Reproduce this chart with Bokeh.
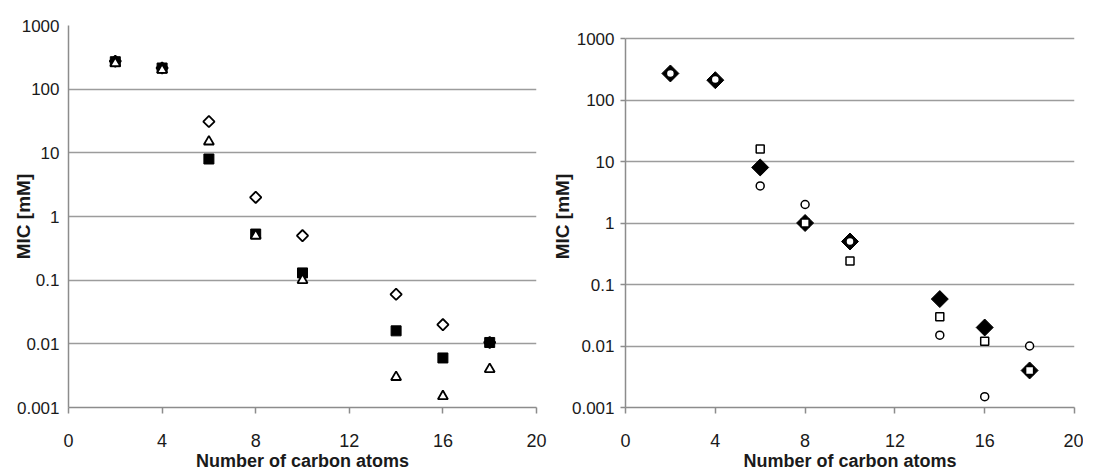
import math
from bokeh.plotting import figure
from bokeh.layouts import row
from bokeh.models import FixedTicker, Range1d
from bokeh.embed import file_html
from bokeh.resources import INLINE

nan = float("nan")

carbons = [2, 4, 6, 8, 10, 14, 16, 18]

# Left panel series
left_diamond = [275, 215, 31, 2.0, 0.5, 0.06, 0.02, 0.0105]
left_triangle = [255, 200, 15, 0.5, 0.1, 0.003, 0.0015, 0.004]
left_square = [270, 215, 8, 0.53, 0.13, 0.016, 0.006, 0.0105]

# Right panel series
right_diamond = [270, 210, 8, 1.0, 0.5, 0.058, 0.02, 0.004]
right_square = [nan, nan, 16, 1.0, 0.24, 0.03, 0.012, 0.004]
right_circle = [270, 215, 4, 2.0, 0.5, 0.015, 0.0015, 0.01]

y_ticks = [0.001, 0.01, 0.1, 1, 10, 100, 1000]
y_tick_labels = ["0.001", "0.01", "0.1", "1", "10", "100", "1000"]
x_ticks = [0, 4, 8, 12, 16, 20]
x_title = "Number of carbon atoms"
y_title = "MIC [mM]"

FONT = "Liberation Sans"
GRID = "#9c9c9c"
AXIS = "#8c8c8c"
TXT = "#1a1a1a"


def make_panel(fw, fh, bl, br, bt, bb, y_end, ytick_out, ystand, ylab_stand):
    p = figure(frame_width=fw, frame_height=fh,
               min_border_left=bl, min_border_right=br,
               min_border_top=bt, min_border_bottom=bb,
               y_axis_type="log",
               x_range=Range1d(0, 20), y_range=Range1d(0.001, y_end),
               output_backend="svg", toolbar_location=None)
    p.outline_line_color = None
    p.background_fill_color = "white"
    p.xgrid.grid_line_color = None
    p.ygrid.grid_line_color = GRID
    p.ygrid.grid_line_width = 1.5
    p.ygrid.ticker = FixedTicker(ticks=y_ticks)

    p.yaxis.ticker = FixedTicker(ticks=y_ticks)
    p.yaxis.bounds = (0.001, 1000)
    p.yaxis.major_label_overrides = {t: l for t, l in zip(y_ticks, y_tick_labels)}
    p.yaxis.minor_tick_line_color = None
    p.yaxis.major_tick_in = 0
    p.yaxis.major_tick_out = ytick_out
    p.yaxis.major_tick_line_color = AXIS if ytick_out else None
    p.yaxis.major_tick_line_width = 1.5
    p.yaxis.axis_line_color = AXIS
    p.yaxis.axis_line_width = 1.5
    p.yaxis.major_label_standoff = ystand
    p.yaxis.axis_label = y_title
    p.yaxis.axis_label_text_font = FONT
    p.yaxis.axis_label_text_font_style = "bold"
    p.yaxis.axis_label_text_font_size = "19px"
    p.yaxis.axis_label_text_color = TXT
    p.yaxis.axis_label_standoff = ylab_stand
    p.yaxis.major_label_text_font = FONT
    p.yaxis.major_label_text_font_size = "17px"
    p.yaxis.major_label_text_color = TXT

    p.xaxis.ticker = FixedTicker(ticks=x_ticks)
    p.xaxis.minor_tick_line_color = None
    p.xaxis.major_tick_in = 0
    p.xaxis.major_tick_out = 6
    p.xaxis.major_tick_line_color = AXIS
    p.xaxis.major_tick_line_width = 1.5
    p.xaxis.axis_line_color = AXIS
    p.xaxis.axis_line_width = 1.5
    p.xaxis.major_label_standoff = 20
    p.xaxis.axis_label = x_title
    p.xaxis.axis_label_text_font = FONT
    p.xaxis.axis_label_text_font_style = "bold"
    p.xaxis.axis_label_text_font_size = "18px"
    p.xaxis.axis_label_text_color = TXT
    p.xaxis.axis_label_standoff = 1
    p.xaxis.major_label_text_font = FONT
    p.xaxis.major_label_text_font_size = "18px"
    p.xaxis.major_label_text_color = TXT
    return p


DIAMOND = math.pi / 4

left = make_panel(468, 382, 68, 12, 25, 66, 1000, 0, 9, -20)
left.scatter(carbons, left_diamond, marker="square", angle=DIAMOND, size=8,
             fill_color="white", line_color="black", line_width=1.8)
left.scatter(carbons, left_square, marker="square", size=10,
             fill_color="black", line_color="black", line_width=1)
left.scatter(carbons, left_triangle, marker="triangle", size=10,
             fill_color="white", line_color="black", line_width=1.8)

# right panel: 0.001 .. 1000 spans 369 px, frame extends 13 px above 1000
right_end = 1000 * 10 ** (13 / (369 / 6))
right = make_panel(449, 382, 71, 9, 25, 66, right_end, 5, 6, -4)
right.scatter(carbons, right_diamond, marker="square", angle=DIAMOND, size=12,
              fill_color="black", line_color="black", line_width=1)
right.scatter(carbons, right_square, marker="square", size=8,
              fill_color="white", line_color="black", line_width=1.5)
right.scatter(carbons, right_circle, marker="circle", size=8,
              fill_color="white", line_color="black", line_width=1.5)

layout = row(left, right)
open("out.html", "w").write(file_html(layout, INLINE))
